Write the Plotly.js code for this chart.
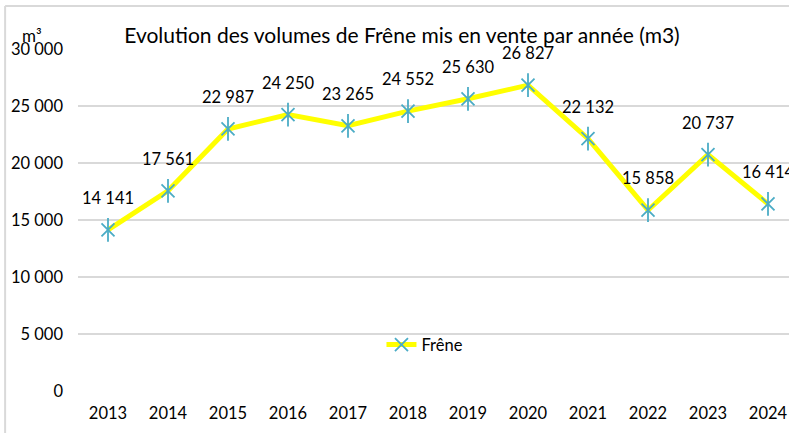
<!DOCTYPE html>
<html>
<head>
<meta charset="utf-8">
<script src="https://cdn.plot.ly/plotly-3.0.1.min.js"></script>
<style>
html,body{margin:0;padding:0;background:#fff;overflow:hidden;}
#chart{width:789px;height:433px;}
</style>
</head>
<body>
<div id="chart"></div>
<script>
const years = ['2013','2014','2015','2016','2017','2018','2019','2020','2021','2022','2023','2024'];
const volumes = [14141, 17561, 22987, 24250, 23265, 24552, 25630, 26827, 22132, 15858, 20737, 16414];
const yTickVals = [0, 5000, 10000, 15000, 20000, 25000, 30000];
const yTickText = ['0', '5 000', '10 000', '15 000', '20 000', '25 000', '30 000'];
const seriesName = 'Frêne';
const titleText = 'Evolution des volumes de Frêne mis en vente par année (m3)';
const unitText = 'm³';

function fmt(v){ return String(v).replace(/\B(?=(\d{3})+(?!\d))/g, ' '); }

const FONT = 'Lato, "Open Sans", sans-serif';
const FS = 16.5;
const markerColor = '#4bacc6';

const traces = [
  {
    x: years, y: volumes, name: seriesName, type: 'scatter', mode: 'lines+markers',
    line: {color: '#ffff00', width: 5},
    marker: {symbol: 'x-thin-open', size: 13, color: markerColor, line: {color: markerColor, width: 1.8}},
    hoverinfo: 'skip'
  },
  {
    x: years, y: volumes, showlegend: false, type: 'scatter', mode: 'markers',
    marker: {symbol: 'line-ns-open', size: 17, color: markerColor, line: {color: markerColor, width: 1.8}},
    hoverinfo: 'skip'
  }
];

const annotations = years.map((yr, i) => ({
  x: i, y: volumes[i], xref: 'x', yref: 'y', text: fmt(volumes[i]),
  showarrow: false, yshift: 32, xshift: 0, xanchor: 'center', yanchor: 'middle',
  font: {family: FONT, size: FS, color: '#000'}
}));
annotations.push({
  xref: 'paper', yref: 'paper', x: -0.082, y: 1.0, yshift: 14, text: unitText, showarrow: false,
  xanchor: 'left', yanchor: 'middle', font: {family: FONT, size: 17, color: '#000'}
});

const layout = {
  width: 789, height: 433,
  margin: {l: 78, r: 0, t: 49, b: 42},
  paper_bgcolor: '#fff', plot_bgcolor: '#fff',
  font: {family: FONT, size: FS, color: '#000'},
  title: {text: titleText, x: 0.5095, xref: 'container', xanchor: 'center', y: 0.918, yanchor: 'middle',
          font: {family: FONT, size: 21, color: '#000'}},
  xaxis: {
    type: 'category', range: [-0.5, 11.35], showgrid: false, zeroline: false, showline: false,
    ticks: '', ticklabelstandoff: 10, tickfont: {family: FONT, size: FS, color: '#000'}, fixedrange: true
  },
  yaxis: {
    range: [0, 30000], tickvals: yTickVals, ticktext: yTickText,
    showgrid: true, gridcolor: '#d9d9d9', gridwidth: 1.5, zeroline: false, showline: false,
    ticks: '', ticklabelstandoff: 14, tickfont: {family: FONT, size: FS, color: '#000'}, fixedrange: true
  },
  showlegend: true,
  legend: {
    x: 0.488, y: 0.135, xanchor: 'center', yanchor: 'middle', orientation: 'h',
    bgcolor: 'rgba(0,0,0,0)', font: {family: FONT, size: FS, color: '#000'}
  },
  annotations: annotations,
  shapes: [
    {type: 'line', xref: 'paper', yref: 'paper', x0: -0.1025, x1: 1.2, y0: 1.1255, y1: 1.1255,
     line: {color: '#d9d9d9', width: 2}},
    {type: 'line', xref: 'paper', yref: 'paper', x0: -0.1025, x1: -0.1025, y0: 1.1255, y1: -0.2,
     line: {color: '#d9d9d9', width: 2}}
  ]
};

Plotly.newPlot('chart', traces, layout, {displayModeBar: false, staticPlot: true});
</script>
</body>
</html>
